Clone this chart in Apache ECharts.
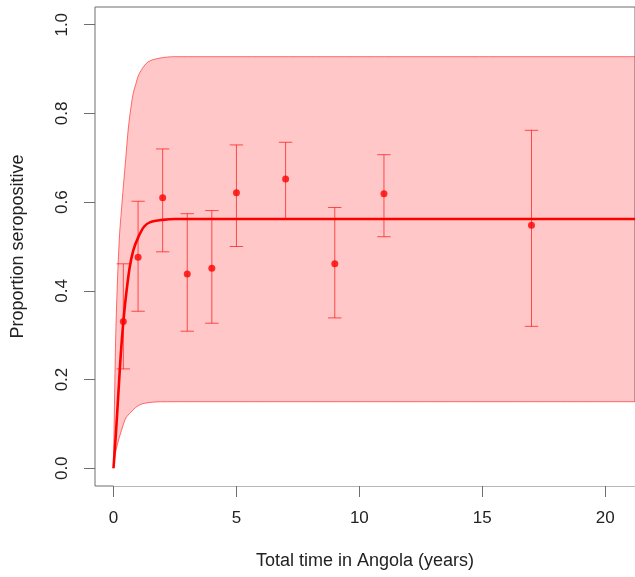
<!DOCTYPE html>
<html>
<head>
<meta charset="utf-8">
<script src="https://cdn.jsdelivr.net/npm/echarts@6/dist/echarts.min.js"></script>
<style>
  html, body { margin: 0; padding: 0; background: #fff; }
  #chart { width: 635px; height: 577px; }
</style>
</head>
<body>
<div id="chart"></div>
<script>
// tick labels
const xTicks = [0, 5, 10, 15, 20];
const yTicks = [0, 0.2, 0.4, 0.6, 0.8, 1.0];

// observed proportions with error bars
const pointX  = [0.4, 1, 2, 3, 4, 5, 7, 9, 11, 17];
const pointY  = [0.331, 0.476, 0.610, 0.438, 0.451, 0.621, 0.652, 0.461, 0.619, 0.548];
const pointLo = [0.224, 0.354, 0.488, 0.309, 0.327, 0.500, 0.561, 0.339, 0.522, 0.320];
const pointHi = [0.461, 0.602, 0.720, 0.574, 0.581, 0.729, 0.735, 0.588, 0.707, 0.762];

// fitted curve
const fitX = [0, 0.1, 0.2, 0.3, 0.4, 0.5, 0.65, 0.8, 1.0, 1.25, 1.5, 2, 2.5, 21.5];
const fitY = [0, 0.08, 0.17, 0.26, 0.33, 0.385, 0.45, 0.49, 0.52, 0.545, 0.555, 0.56, 0.562, 0.562];

// band bounds
const upperX = [0, 0.05, 0.1, 0.18, 0.25, 0.32, 0.4, 0.5, 0.6, 0.7, 0.8, 0.9, 1.05, 1.4, 1.9, 2.5, 21.5];
const upperY = [0, 0.18, 0.32, 0.45, 0.53, 0.58, 0.635, 0.7, 0.765, 0.81, 0.845, 0.865, 0.89, 0.916, 0.925, 0.928, 0.928];
const lowerX = [0, 0.1, 0.24, 0.37, 0.5, 0.7, 0.9, 1.16, 1.6, 2.2, 21.5];
const lowerY = [0, 0.04, 0.07, 0.093, 0.113, 0.126, 0.137, 0.145, 0.149, 0.15, 0.15];

const font = "'Liberation Sans', Arial, sans-serif";
const zip = (xs, ys) => xs.map((x, i) => [x, ys[i]]);
const edge = { color: 'rgba(255,0,0,0.55)', width: 1 };

const chart = echarts.init(document.getElementById('chart'));

chart.setOption({
  animation: false,
  grid: {
    left: 95, top: 7, bottom: 91, right: -15,
    show: true, borderColor: '#6e6e6e', borderWidth: 1
  },
  xAxis: {
    type: 'value', min: -0.752, max: 21.21,
    name: 'Total time in Angola (years)',
    nameLocation: 'middle', nameGap: 66,
    nameTextStyle: { fontSize: 18, color: '#222', fontFamily: font },
    axisLine: { show: false, onZero: false },
    splitLine: { show: false },
    axisTick: { length: 11, customValues: xTicks, lineStyle: { color: '#6e6e6e' } },
    axisLabel: { customValues: xTicks, fontSize: 17, color: '#222', fontFamily: font, margin: 24 }
  },
  yAxis: {
    type: 'value', min: -0.04, max: 1.04,
    name: 'Proportion seropositive',
    nameLocation: 'middle', nameGap: 68,
    nameTextStyle: { fontSize: 18, color: '#222', fontFamily: font },
    axisLine: { show: false, onZero: false },
    splitLine: { show: false },
    axisTick: { length: 11, customValues: yTicks, lineStyle: { color: '#6e6e6e' } },
    axisLabel: {
      customValues: yTicks, rotate: 90, fontSize: 17, color: '#222', fontFamily: font, margin: 24,
      formatter: v => v.toFixed(1)
    }
  },
  series: [
    {
      // upper edge, shaded down to zero
      type: 'line',
      data: zip(upperX, upperY),
      smooth: 0.3,
      showSymbol: false,
      z: 1,
      lineStyle: edge,
      areaStyle: { color: 'rgba(255,0,0,0.22)', opacity: 1 }
    },
    {
      // lower edge, clears the shading below it
      type: 'line',
      data: zip(lowerX, lowerY),
      smooth: 0.3,
      showSymbol: false,
      z: 2,
      lineStyle: edge,
      areaStyle: { color: '#ffffff', opacity: 1, origin: 'start' }
    },
    {
      type: 'line',
      data: zip(fitX, fitY),
      smooth: 0.3,
      showSymbol: false,
      z: 3,
      lineStyle: { color: '#ff0000', width: 2.6 }
    },
    {
      type: 'custom',
      data: pointX.map((x, i) => [x, pointY[i], pointLo[i], pointHi[i]]),
      encode: { x: 0, y: 1 },
      z: 4,
      renderItem: (params, api) => {
        const x = api.value(0);
        const top = api.coord([x, api.value(3)]);
        const bot = api.coord([x, api.value(2)]);
        const w = 6.7;
        const style = { stroke: 'rgba(255,0,0,0.65)', lineWidth: 1, fill: null };
        return {
          type: 'group',
          children: [
            { type: 'line', shape: { x1: top[0], y1: top[1], x2: bot[0], y2: bot[1] }, style },
            { type: 'line', shape: { x1: top[0] - w, y1: top[1], x2: top[0] + w, y2: top[1] }, style },
            { type: 'line', shape: { x1: bot[0] - w, y1: bot[1], x2: bot[0] + w, y2: bot[1] }, style }
          ]
        };
      }
    },
    {
      type: 'scatter',
      data: zip(pointX, pointY),
      symbol: 'circle',
      symbolSize: 7,
      z: 5,
      itemStyle: { color: '#ff0000' }
    }
  ]
});
</script>
</body>
</html>
